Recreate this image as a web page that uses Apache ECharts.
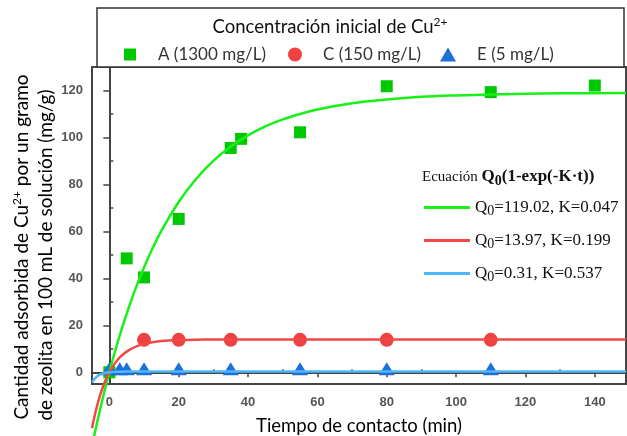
<!DOCTYPE html>
<html>
<head>
<meta charset="utf-8">
<script src="https://cdn.jsdelivr.net/npm/echarts@6/dist/echarts.min.js"></script>
<style>
  html, body { margin: 0; padding: 0; background: #fff; }
  #chart { width: 627px; height: 436px; }
</style>
</head>
<body>
<div id="chart"></div>
<script>
// Datos experimentales (tiempo en min, q en mg/g)
const tA = [0, 5, 10, 20, 35, 38, 55, 80, 110, 140];
const qA = [0, 48.5, 40.4, 65.3, 95.5, 99.4, 102.2, 121.8, 119.3, 122.1];
const tC = [10, 20, 35, 55, 80, 110];
const qC = [13.8, 13.8, 13.8, 13.8, 13.8, 13.8];
const tE = [0, 3, 5, 10, 20, 35, 55, 80, 110];
const qE = [1.5, 1.5, 1.5, 1.5, 1.5, 1.5, 1.5, 1.5, 1.5];

// Curvas de ajuste
const tFit = [-5, -4, -3, -2, -1, 0, 1, 2, 3, 4, 5, 6, 8, 10, 12, 15, 20, 25, 30, 35, 40, 45, 50, 55, 60, 70, 80, 90, 100, 110, 130, 149];
const fitA = [-31.5, -24.6, -18.0, -11.7, -5.7, 0, 5.5, 10.7, 15.7, 20.4, 24.9, 29.2, 37.3, 44.6, 51.3, 60.2, 72.5, 82.3, 90.0, 96.1, 100.9, 104.7, 107.7, 110.0, 111.9, 114.6, 116.2, 117.3, 117.9, 118.3, 118.8, 118.9];
const fitC = [-23.8, -17.0, -11.4, -6.8, -3.1, 0, 2.5, 4.6, 6.3, 7.7, 8.8, 9.7, 11.1, 12.1, 12.7, 13.3, 13.7, 13.87, 13.93, 13.96, 13.97, 13.97, 13.97, 13.97, 13.97, 13.97, 13.97, 13.97, 13.97, 13.97, 13.97, 13.97];
const fitE = [-4.23, -2.35, -1.24, -0.6, -0.22, 0, 0.13, 0.2, 0.25, 0.27, 0.29, 0.3, 0.31, 0.31, 0.31, 0.31, 0.31, 0.31, 0.31, 0.31, 0.31, 0.31, 0.31, 0.31, 0.31, 0.31, 0.31, 0.31, 0.31, 0.31, 0.31, 0.31];

const nameA = 'A (1300 mg/L)';
const nameC = 'C (150 mg/L)';
const nameE = 'E (5 mg/L)';
const fitNames = ['Q0=119.02, K=0.047', 'Q0=13.97, K=0.199', 'Q0=0.31, K=0.537'];

// Marcas de los ejes
const xTicks = [0, 20, 40, 60, 80, 100, 120, 140];
const xMinor = [10, 30, 50, 70, 90, 110, 130];
const yTicks = [0, 20, 40, 60, 80, 100, 120];
const yMinor = [10, 30, 50, 70, 90, 110, 130];

const SANS = 'Lato, "Open Sans", sans-serif';
const SERIF = '"Liberation Serif", "DejaVu Serif", serif';
const AXIS_COLOR = '#444';

const zip = (xs, ys) => xs.map((x, i) => [x, ys[i]]);

const chart = echarts.init(document.getElementById('chart'));

const majorX = {
    type: 'value', min: -5, max: 149, gridIndex: 0,
    axisLine: { show: true, lineStyle: { color: AXIS_COLOR, width: 2 } },
    axisTick: { show: true, customValues: xTicks, length: 5, lineStyle: { color: AXIS_COLOR, width: 1.5 } },
    axisLabel: { customValues: xTicks, margin: 12, color: '#555', fontWeight: 'bold', fontSize: 13, fontFamily: '"Liberation Sans", Arial, sans-serif' },
    splitLine: { show: false },
    name: 'Tiempo de contacto (min)', nameLocation: 'middle', nameGap: 33,
    nameTextStyle: { color: '#000', fontSize: 18.5, fontFamily: SANS }
};
const minorX = {
    type: 'value', min: -5, max: 149, gridIndex: 0,
    axisLine: { show: false },
    axisTick: { show: true, customValues: xMinor, length: 3, lineStyle: { color: AXIS_COLOR, width: 1.5 } },
    axisLabel: { show: false },
    splitLine: { show: false }
};
const majorY = {
    type: 'value', min: -5, max: 130, gridIndex: 0,
    axisLine: { show: true, lineStyle: { color: AXIS_COLOR, width: 2 } },
    axisTick: { show: true, customValues: yTicks, length: 6, lineStyle: { color: AXIS_COLOR, width: 1.5 } },
    axisLabel: { customValues: yTicks, margin: 9, color: '#555', fontWeight: 'bold', fontSize: 13, fontFamily: '"Liberation Sans", Arial, sans-serif' },
    splitLine: { show: false }
};
const minorY = {
    type: 'value', min: -5, max: 130, gridIndex: 0,
    axisLine: { show: false },
    axisTick: { show: true, customValues: yMinor, length: 4, lineStyle: { color: AXIS_COLOR, width: 1.5 } },
    axisLabel: { show: false },
    splitLine: { show: false }
};

// leyenda de puntos: una por serie para ubicarlas como en el original
function pointLegend(name, left, w, h, pad) {
    return {
        data: [name], left: left, top: 41, orient: 'horizontal',
        itemWidth: w, itemHeight: h, selectedMode: false,
        formatter: n => '{t|' + n + '}',
        textStyle: {
            rich: { t: { fontFamily: SANS, fontSize: 17, color: '#333', padding: [0, 0, 0, pad], lineHeight: 20 } }
        }
    };
}

const fitLegend = {
    data: fitNames, orient: 'vertical', left: 419, top: 194, itemGap: 13.5,
    itemWidth: 46, itemHeight: 3, icon: 'rect', selectedMode: false,
    formatter: n => '{n|Q}{s|0}{n|' + n.slice(2) + '}',
    textStyle: {
        rich: {
            n: { fontFamily: SERIF, fontSize: 17, color: '#111', lineHeight: 22 },
            s: { fontFamily: SERIF, fontSize: 14, color: '#111', lineHeight: 12, verticalAlign: 'bottom' }
        }
    }
};

const lineSeries = (name, data, color) => ({
    name: name, type: 'line', data: data, xAxisIndex: 0, yAxisIndex: 0,
    showSymbol: false, smooth: 0.35, clip: false, z: 3,
    lineStyle: { color: color, width: 2.5 }, itemStyle: { color: color },
    silent: true
});

chart.setOption({
    animation: false,
    backgroundColor: '#fff',
    grid: {
        left: 92, right: 1, top: 67, bottom: 52, containLabel: false, outerBoundsMode: 'none',
        show: true, borderColor: AXIS_COLOR, borderWidth: 2, backgroundColor: 'transparent'
    },
    xAxis: [majorX, minorX],
    yAxis: [majorY, minorY],
    legend: [
        pointLegend(nameA, 119, 12, 12, 17),
        pointLegend(nameC, 283, 14, 14, 16),
        pointLegend(nameE, 435, 16, 14, 16),
        fitLegend
    ],
    graphic: [
        { type: 'rect', shape: { x: 97, y: 8, width: 527, height: 59 }, style: { fill: '#fff', stroke: '#333', lineWidth: 1.5 }, z: 1 },
        {
            type: 'text', x: 330, y: 27, z: 5,
            style: {
                text: '{a|Concentración inicial de Cu}{b|2+}',
                align: 'center', verticalAlign: 'middle',
                rich: {
                    a: { fontFamily: SANS, fontSize: 18.5, fill: '#111', lineHeight: 22 },
                    b: { fontFamily: SANS, fontSize: 12, fill: '#111', lineHeight: 12, verticalAlign: 'top' }
                }
            }
        },
        {
            type: 'text', x: 22, y: 247, rotation: Math.PI / 2, z: 5,
            style: {
                text: '{a|Cantidad adsorbida de Cu}{b|2+}{a| por un gramo}',
                align: 'center', verticalAlign: 'middle',
                rich: {
                    a: { fontFamily: SANS, fontSize: 19, fill: '#000', lineHeight: 22 },
                    b: { fontFamily: SANS, fontSize: 12, fill: '#000', lineHeight: 12, verticalAlign: 'top' }
                }
            }
        },
        {
            type: 'text', x: 46, y: 255, rotation: Math.PI / 2, z: 5,
            style: {
                text: 'de zeolita en 100 mL de solución (mg/g)',
                align: 'center', verticalAlign: 'middle',
                font: '19px ' + SANS, fill: '#000'
            }
        },
        {
            type: 'text', x: 422, y: 177, z: 5,
            style: {
                text: '{a|Ecuación }{b|Q}{s|0}{b|(1-exp(-K·t))}',
                align: 'left', verticalAlign: 'middle',
                rich: {
                    a: { fontFamily: SERIF, fontSize: 15, fill: '#111', lineHeight: 22 },
                    b: { fontFamily: SERIF, fontSize: 17, fontWeight: 'bold', fill: '#111', lineHeight: 22 },
                    s: { fontFamily: SERIF, fontSize: 14, fontWeight: 'bold', fill: '#111', lineHeight: 12, verticalAlign: 'bottom' }
                }
            }
        }
    ],
    series: [
        { name: nameA, type: 'scatter', data: zip(tA, qA), symbol: 'rect', symbolSize: 12, itemStyle: { color: '#00C800', opacity: 1 }, z: 2 },
        { name: nameC, type: 'scatter', data: zip(tC, qC), symbol: 'circle', symbolSize: 14, itemStyle: { color: '#EF4141', opacity: 1 }, z: 2 },
        { name: nameE, type: 'scatter', data: zip(tE, qE), symbol: 'triangle', symbolSize: [16, 13], itemStyle: { color: '#1E6FD8', opacity: 1 }, z: 2 },
        lineSeries(fitNames[0], zip(tFit, fitA), '#18F018'),
        lineSeries(fitNames[1], zip(tFit, fitC), '#F24848'),
        lineSeries(fitNames[2], zip(tFit, fitE), '#4DB8FF')
    ]
});
</script>
</body>
</html>
